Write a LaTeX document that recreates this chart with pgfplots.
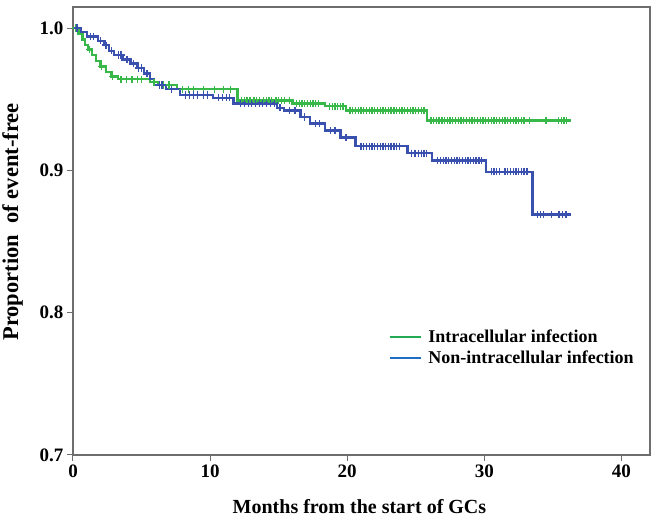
\documentclass[border=0pt]{standalone}
\usepackage{fontspec}
\setmainfont{Liberation Serif}
\usepackage{pgfplots}
\pgfplotsset{compat=1.18}

\definecolor{kmgreen}{RGB}{56,184,72}
\definecolor{kmblue}{RGB}{58,80,174}
\definecolor{leggreen}{RGB}{34,172,82}
\definecolor{legblue}{RGB}{32,110,196}
\definecolor{axgray}{RGB}{110,110,110}

\begin{document}
\begin{tikzpicture}
\useasboundingbox (-73pt,-63pt) rectangle (585pt,455pt);
\begin{axis}[
    anchor=south west, at={(0,0)},
    scale only axis, width=577pt, height=448pt,
    xmin=0, xmax=42.08, ymin=0.7, ymax=1.0148,
    xtick={0,10,20,30,40},
    ytick={0.7,0.8,0.9,1.0},
    yticklabel style={/pgf/number format/.cd, fixed, fixed zerofill, precision=1},
    /pgf/number format/assume math mode=true,
    tick label style={font=\fontsize{19}{22}\selectfont\bfseries},
    tick align=outside, tick pos=left,
    major tick length=6pt,
    axis line style={draw=axgray, line width=1.3pt},
    tick style={draw=axgray, line width=1pt},
    xlabel={Months from the start of GCs},
    ylabel={Proportion\ \ of event-free},
    xlabel style={font=\fontsize{20}{24}\selectfont\bfseries, inner sep=0pt,
        at={(axis description cs:0.4965,-0.1317)}, anchor=base},
    ylabel style={font=\fontsize{22.5}{26}\selectfont\bfseries, inner sep=0pt,
        at={(axis description cs:-0.0866,0.52)}, anchor=south},
    legend style={at={(axis cs:23.0,0.789)}, anchor=north west, draw=none, fill=none,
        font=\fontsize{18}{21}\selectfont\bfseries, inner sep=0pt, row sep=4pt,
        nodes={inner sep=1.5pt},
        /tikz/every odd column/.append style={column sep=5pt}},
    legend cell align=left,
    legend image code/.code={\draw[#1] (0pt,0pt) -- (31pt,0pt);},
]
\addlegendimage{leggreen, line width=2.2pt}
\addlegendentry{Intracellular infection}
\addlegendimage{legblue, line width=2.2pt}
\addlegendentry{Non-intracellular infection}

% Intracellular infection
\addplot[const plot, kmgreen, line width=2.3pt, forget plot] coordinates {
(0,1.000) (0.4,0.996) (0.7,0.992) (0.9,0.988) (1.1,0.985) (1.4,0.981)
(1.7,0.977) (2.0,0.973) (2.4,0.969) (2.8,0.966) (3.3,0.964) (5.6,0.962)
(6.2,0.960) (7.6,0.957) (12.0,0.949) (16.0,0.947) (18.4,0.945) (19.9,0.942)
(25.8,0.935) (36.3,0.935)
};
\addplot[only marks, mark=+, mark size=3.6pt, kmgreen, mark options={line width=1.3pt}, forget plot] coordinates {
(0.2,1.000) (1.2,0.985) (2.1,0.973) (2.9,0.966) (3.5,0.964) (3.9,0.964) (4.3,0.964)
(4.7,0.964) (5.0,0.964) (5.9,0.962) (6.6,0.960) (7.0,0.960) (8.0,0.957) (8.4,0.957)
(8.8,0.957) (9.5,0.957) (10.3,0.957) (11.0,0.957) (11.5,0.957) (12.3,0.949) (12.7,0.949)
(13.2,0.949) (13.6,0.949) (14.1,0.949) (14.5,0.949) (15.0,0.949) (15.4,0.949) (15.8,0.949)
(12.5,0.949) (12.9,0.949) (13.4,0.949) (13.9,0.949) (14.3,0.949) (14.8,0.949) (15.2,0.949)
(16.3,0.947) (16.7,0.947) (17.1,0.947) (17.5,0.947) (17.9,0.947) (18.7,0.945) (19.1,0.945)
(16.5,0.947) (16.9,0.947) (17.3,0.947) (17.7,0.947) (18.9,0.945) (19.3,0.945) (19.7,0.945)
(19.5,0.945) (20.2,0.942) (20.6,0.942) (21.0,0.942) (21.4,0.942) (21.8,0.942) (22.2,0.942)
(22.6,0.942) (23.0,0.942) (23.4,0.942) (23.8,0.942) (24.2,0.942) (24.6,0.942) (25.0,0.942)
(20.4,0.942) (20.8,0.942) (21.2,0.942) (21.6,0.942) (22.0,0.942) (22.4,0.942) (22.8,0.942)
(23.2,0.942) (23.6,0.942) (24.0,0.942) (24.4,0.942) (24.8,0.942) (25.2,0.942) (25.6,0.942)
(25.4,0.942) (26.1,0.935) (26.5,0.935) (26.9,0.935) (27.3,0.935) (27.7,0.935) (28.1,0.935)
(28.5,0.935) (28.9,0.935) (29.3,0.935) (29.7,0.935) (30.1,0.935) (30.5,0.935) (30.9,0.935)
(31.3,0.935) (31.7,0.935) (32.1,0.935) (32.5,0.935) (32.9,0.935) (33.3,0.935) (34.5,0.935)
(26.3,0.935) (26.7,0.935) (27.1,0.935) (27.5,0.935) (27.9,0.935) (28.3,0.935) (28.7,0.935)
(29.1,0.935) (29.5,0.935) (29.9,0.935) (30.3,0.935) (30.7,0.935) (31.1,0.935) (31.5,0.935)
(31.9,0.935) (32.3,0.935) (32.7,0.935) (35.4,0.935) (35.6,0.935) (35.8,0.935) (36.0,0.935)
};

% Non-intracellular infection
\addplot[const plot, kmblue, line width=2.3pt, forget plot] coordinates {
(0,1.000) (0.6,0.997) (1.0,0.994) (1.8,0.991) (2.3,0.988) (2.6,0.984) (3.0,0.981)
(3.6,0.978) (4.2,0.975) (4.7,0.972) (5.2,0.968) (5.6,0.964) (5.9,0.960) (6.8,0.957)
(7.8,0.953) (10.2,0.951) (11.7,0.947) (14.9,0.944) (15.4,0.942) (16.6,0.9375)
(17.3,0.933) (18.4,0.928) (19.5,0.923) (20.6,0.917) (24.4,0.912) (26.2,0.907)
(30.1,0.899) (33.5,0.869) (36.3,0.869)
};
\addplot[only marks, mark=+, mark size=3.6pt, kmblue, mark options={line width=1.3pt}, forget plot] coordinates {
(0.3,1.000) (1.3,0.994) (2.0,0.991) (2.8,0.984) (3.3,0.981) (3.9,0.978) (4.4,0.975)
(5.0,0.972) (6.3,0.960) (7.2,0.957) (8.2,0.953) (8.8,0.953) (9.5,0.953) (10.6,0.951)
(1.5,0.994) (2.4,0.988) (3.5,0.981) (4.0,0.978) (4.8,0.972) (5.4,0.968) (6.5,0.960)
(8.5,0.953) (9.1,0.953) (9.8,0.953) (10.9,0.951) (11.4,0.951)
(11.2,0.951) (12.2,0.947) (12.8,0.947) (13.3,0.947) (13.8,0.947) (14.4,0.947) (15.1,0.944)
(12.5,0.947) (13.0,0.947) (13.6,0.947) (14.1,0.947) (14.7,0.947)
(15.8,0.942) (16.2,0.942) (16.9,0.9375) (17.7,0.933) (18.0,0.933) (18.8,0.928) (19.1,0.928)
(19.9,0.923) (21.0,0.917) (21.4,0.917) (21.8,0.917) (22.2,0.917) (22.6,0.917) (23.0,0.917)
(21.2,0.917) (21.6,0.917) (22.0,0.917) (22.4,0.917) (22.8,0.917) (23.2,0.917) (23.6,0.917)
(23.4,0.917) (23.8,0.917) (24.7,0.912) (25.0,0.912) (25.4,0.912) (25.8,0.912) (26.6,0.907)
(24.9,0.912) (25.2,0.912) (25.6,0.912) (26.8,0.907) (27.2,0.907) (27.6,0.907) (28.0,0.907)
(28.4,0.907) (28.8,0.907) (29.2,0.907) (29.6,0.907)
(27.0,0.907) (27.4,0.907) (27.8,0.907) (28.2,0.907) (28.6,0.907) (29.0,0.907) (29.4,0.907)
(29.8,0.907) (30.5,0.899) (30.9,0.899) (31.5,0.899) (31.9,0.899) (32.3,0.899) (32.7,0.899)
(30.7,0.899) (31.1,0.899) (31.7,0.899) (32.1,0.899) (32.5,0.899) (32.9,0.899)
(33.1,0.899) (33.9,0.869) (34.3,0.869) (34.9,0.869) (35.4,0.869) (35.7,0.869) (36.0,0.869)
(34.1,0.869) (35.5,0.869) (35.9,0.869)
};
\end{axis}
\end{tikzpicture}
\end{document}
